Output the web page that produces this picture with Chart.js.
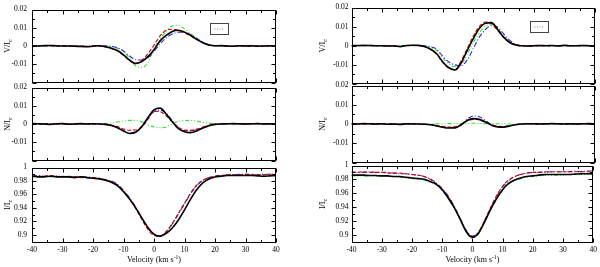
<!DOCTYPE html>
<html>
<head>
<meta charset="utf-8">
<script src="https://cdn.jsdelivr.net/npm/chart.js@4.4.0/dist/chart.umd.min.js"></script>
<style>
  html, body { margin: 0; padding: 0; background: #fff; }
  #wrap { position: relative; width: 600px; height: 267px; overflow: hidden; }
  canvas { position: absolute; }
</style>
</head>
<body>
<div id="wrap">
  <canvas id="lv" width="300" height="92" style="left:0;top:0"></canvas>
  <canvas id="ln" width="300" height="92" style="left:0;top:78px"></canvas>
  <canvas id="li" width="300" height="109" style="left:0;top:158px"></canvas>
  <canvas id="rv" width="300" height="92" style="left:300px;top:0"></canvas>
  <canvas id="rn" width="300" height="92" style="left:300px;top:78px"></canvas>
  <canvas id="ri" width="300" height="109" style="left:300px;top:158px"></canvas>
</div>
<script>
// velocity grid (km/s)
const velocity = [-40, -38, -36, -34, -32, -30, -28, -26, -24, -22, -20,
  -18, -16, -14, -12, -10, -8, -6, -4, -2,
  0, 2, 4, 6, 8, 10, 12, 14, 16, 18, 20,
  22, 24, 26, 28, 30, 32, 34, 36, 38, 40];

// left panel, V/Ic
const lvBlack = [0.0001, 0.0000, 0.0002, 0.0003, 0.0001, 0.0000, 0.0000, -0.0001, -0.0003, -0.0004, -0.0001,
  0.0001, -0.0004, -0.0012, -0.0025, -0.0048, -0.0078, -0.0096, -0.0085, -0.0058,
  -0.0020, 0.0028, 0.0058, 0.0080, 0.0086, 0.0076, 0.0058, 0.0036, 0.0018, 0.0005, 0.0001,
  0.0002, 0.0000, -0.0001, 0.0001, 0.0000, 0.0001, -0.0001, 0.0000, 0.0001, 0.0000];
const lvRed = [0.0000, 0.0001, 0.0002, 0.0001, 0.0000, 0.0001, 0.0000, -0.0001, 0.0000, -0.0002, 0.0000,
  0.0000, -0.0004, -0.0013, -0.0028, -0.0052, -0.0080, -0.0094, -0.0078, -0.0042,
  0.0005, 0.0055, 0.0086, 0.0092, 0.0085, 0.0072, 0.0055, 0.0035, 0.0018, 0.0006, 0.0001,
  0.0001, -0.0001, 0.0000, 0.0001, 0.0000, 0.0000, 0.0001, -0.0001, 0.0000, 0.0001];
const lvBlue = [0.0000, 0.0001, 0.0001, 0.0002, 0.0001, 0.0000, 0.0001, 0.0000, 0.0000, -0.0001, 0.0001,
  0.0002, 0.0001, -0.0002, -0.0010, -0.0027, -0.0055, -0.0075, -0.0077, -0.0065,
  -0.0030, 0.0012, 0.0045, 0.0066, 0.0076, 0.0075, 0.0062, 0.0042, 0.0022, 0.0008, 0.0002,
  0.0001, 0.0000, 0.0000, 0.0001, 0.0000, -0.0001, 0.0000, 0.0001, 0.0000, 0.0000];
const lvGreen = [0.0000, 0.0000, 0.0001, 0.0000, 0.0000, 0.0001, 0.0000, 0.0000, 0.0001, 0.0000, 0.0000,
  0.0000, 0.0000, -0.0003, -0.0012, -0.0030, -0.0068, -0.0108, -0.0118, -0.0090,
  -0.0015, 0.0037, 0.0082, 0.0110, 0.0113, 0.0094, 0.0068, 0.0042, 0.0020, 0.0006, 0.0001,
  0.0000, 0.0000, 0.0001, 0.0000, 0.0000, 0.0000, 0.0001, 0.0000, 0.0000, 0.0000];

// left panel, N/Ic
const lnBlack = [0.0002, 0.0001, 0.0000, -0.0002, 0.0001, 0.0002, -0.0001, 0.0000, 0.0002, 0.0000, 0.0001,
  0.0000, -0.0002, -0.0008, -0.0020, -0.0038, -0.0052, -0.0045, -0.0015, 0.0035,
  0.0078, 0.0087, 0.0055, 0.0012, -0.0025, -0.0042, -0.0047, -0.0038, -0.0022, -0.0009, -0.0002,
  0.0000, 0.0001, 0.0002, 0.0001, 0.0000, 0.0001, 0.0002, 0.0000, 0.0001, 0.0000];
const lnRed = [0.0001, 0.0001, 0.0000, -0.0001, 0.0000, 0.0001, 0.0000, 0.0001, 0.0000, 0.0000, 0.0000,
  0.0000, -0.0002, -0.0006, -0.0014, -0.0027, -0.0034, -0.0033, -0.0015, 0.0025,
  0.0070, 0.0068, 0.0045, 0.0012, -0.0018, -0.0033, -0.0035, -0.0028, -0.0017, -0.0007, -0.0001,
  0.0000, 0.0001, 0.0001, 0.0000, 0.0000, 0.0001, 0.0001, 0.0000, 0.0000, 0.0000];
const lnBlue = [0.0001, 0.0000, 0.0001, -0.0001, 0.0001, 0.0001, 0.0000, 0.0000, 0.0001, 0.0000, 0.0000,
  0.0000, -0.0002, -0.0007, -0.0018, -0.0035, -0.0048, -0.0042, -0.0012, 0.0030,
  0.0068, 0.0076, 0.0058, 0.0018, -0.0020, -0.0036, -0.0038, -0.0032, -0.0020, -0.0008, -0.0002,
  0.0000, 0.0001, 0.0001, 0.0001, 0.0000, 0.0001, 0.0001, 0.0000, 0.0001, 0.0000];
const lnGreen = [0.0000, 0.0000, 0.0001, 0.0000, 0.0000, 0.0000, 0.0001, 0.0000, 0.0000, 0.0000, 0.0001,
  0.0001, 0.0002, 0.0006, 0.0011, 0.0016, 0.0020, 0.0020, 0.0012, -0.0004,
  -0.0016, -0.0020, -0.0016, 0.0002, 0.0014, 0.0019, 0.0020, 0.0016, 0.0010, 0.0005, 0.0002,
  0.0001, 0.0000, 0.0000, 0.0000, 0.0000, 0.0000, 0.0000, 0.0000, 0.0000, 0.0000];

// left panel, I/Ic
const liBlack = [0.987, 0.986, 0.986, 0.987, 0.986, 0.986, 0.986, 0.985, 0.986, 0.985, 0.984,
  0.983, 0.981, 0.978, 0.973, 0.964, 0.953, 0.940, 0.925, 0.911,
  0.901, 0.898, 0.902, 0.910, 0.922, 0.937, 0.953, 0.967, 0.977, 0.983, 0.986,
  0.987, 0.988, 0.988, 0.988, 0.988, 0.988, 0.9875, 0.987, 0.9875, 0.988];
const liRed = [0.988, 0.987, 0.987, 0.988, 0.987, 0.986, 0.987, 0.986, 0.986, 0.985, 0.985,
  0.984, 0.982, 0.979, 0.974, 0.965, 0.953, 0.939, 0.923, 0.908,
  0.899, 0.898, 0.905, 0.917, 0.932, 0.947, 0.962, 0.974, 0.981, 0.985, 0.987,
  0.988, 0.989, 0.989, 0.989, 0.990, 0.989, 0.989, 0.989, 0.990, 0.990];
const liBlue = [0.988, 0.988, 0.987, 0.987, 0.987, 0.987, 0.986, 0.986, 0.986, 0.986, 0.985,
  0.984, 0.982, 0.980, 0.975, 0.966, 0.955, 0.941, 0.925, 0.910,
  0.900, 0.898, 0.904, 0.916, 0.931, 0.946, 0.961, 0.973, 0.981, 0.985, 0.987,
  0.988, 0.989, 0.989, 0.990, 0.990, 0.990, 0.989, 0.990, 0.990, 0.990];
const liGreen = [0.987, 0.987, 0.987, 0.986, 0.987, 0.986, 0.986, 0.986, 0.985, 0.985, 0.985,
  0.984, 0.982, 0.979, 0.974, 0.965, 0.954, 0.940, 0.924, 0.909,
  0.899, 0.898, 0.904, 0.916, 0.931, 0.946, 0.961, 0.973, 0.980, 0.985, 0.987,
  0.988, 0.988, 0.989, 0.989, 0.989, 0.989, 0.989, 0.989, 0.989, 0.989];

// right panel, V/Ic
const rvBlack = [0.0000, 0.0001, 0.0002, 0.0001, 0.0000, 0.0000, -0.0001, -0.0001, -0.0005, 0.0001, 0.0003,
  0.0002, -0.0004, -0.0018, -0.0042, -0.0085, -0.0115, -0.0127, -0.0090, -0.0025,
  0.0037, 0.0090, 0.0118, 0.0121, 0.0085, 0.0045, 0.0017, 0.0004, 0.0000, -0.0001, 0.0000,
  0.0001, 0.0000, 0.0001, -0.0001, 0.0002, 0.0000, 0.0000, 0.0001, 0.0000, -0.0001];
const rvRed = [0.0001, 0.0000, 0.0001, 0.0002, 0.0000, 0.0000, 0.0000, -0.0001, -0.0004, 0.0000, 0.0002,
  0.0001, -0.0005, -0.0019, -0.0045, -0.0088, -0.0117, -0.0125, -0.0080, -0.0015,
  0.0050, 0.0100, 0.0124, 0.0115, 0.0080, 0.0042, 0.0016, 0.0004, 0.0000, 0.0000, 0.0001,
  0.0000, 0.0001, 0.0000, 0.0000, 0.0001, 0.0000, 0.0001, 0.0000, 0.0000, 0.0000];
const rvBlue = [0.0000, 0.0001, 0.0000, 0.0000, 0.0001, 0.0000, 0.0000, 0.0000, 0.0000, 0.0001, 0.0001,
  0.0001, 0.0000, -0.0005, -0.0018, -0.0055, -0.0085, -0.0100, -0.0104, -0.0075,
  -0.0015, 0.0045, 0.0085, 0.0105, 0.0098, 0.0062, 0.0028, 0.0008, 0.0000, -0.0001, 0.0000,
  0.0000, 0.0001, 0.0000, 0.0000, 0.0000, -0.0001, 0.0000, 0.0000, 0.0001, 0.0000];
const rvGreen = [0.0000, 0.0000, 0.0001, 0.0000, 0.0000, 0.0001, 0.0000, 0.0000, 0.0000, -0.0001, 0.0000,
  0.0000, -0.0002, -0.0008, -0.0025, -0.0065, -0.0095, -0.0110, -0.0100, -0.0045,
  0.0018, 0.0068, 0.0102, 0.0114, 0.0090, 0.0050, 0.0020, 0.0005, 0.0000, 0.0000, 0.0000,
  0.0000, 0.0000, 0.0001, 0.0000, 0.0000, 0.0000, 0.0000, 0.0001, 0.0000, 0.0000];

// right panel, N/Ic
const rnBlack = [0.0001, 0.0000, 0.0002, 0.0001, 0.0000, 0.0001, -0.0001, 0.0000, -0.0002, 0.0001, 0.0000,
  0.0000, -0.0001, -0.0004, -0.0010, -0.0017, -0.0021, -0.0020, -0.0005, 0.0018,
  0.0028, 0.0024, 0.0010, -0.0006, -0.0015, -0.0016, -0.0010, -0.0004, 0.0000, 0.0001, 0.0001,
  0.0000, 0.0001, 0.0002, 0.0001, 0.0000, 0.0001, 0.0000, 0.0001, 0.0002, 0.0000];
const rnRed = [0.0000, 0.0001, 0.0001, 0.0000, 0.0000, 0.0001, 0.0000, 0.0000, -0.0001, 0.0000, 0.0001,
  0.0000, -0.0001, -0.0003, -0.0008, -0.0013, -0.0016, -0.0015, -0.0003, 0.0016,
  0.0024, 0.0022, 0.0010, -0.0004, -0.0012, -0.0013, -0.0008, -0.0003, 0.0000, 0.0001, 0.0000,
  0.0000, 0.0001, 0.0001, 0.0000, 0.0000, 0.0000, 0.0001, 0.0001, 0.0000, 0.0000];
const rnBlue = [0.0001, 0.0001, 0.0000, 0.0001, 0.0000, 0.0000, 0.0001, 0.0000, 0.0000, 0.0000, 0.0001,
  0.0000, -0.0001, -0.0003, -0.0009, -0.0015, -0.0018, -0.0016, -0.0002, 0.0025,
  0.0042, 0.0038, 0.0018, -0.0003, -0.0013, -0.0014, -0.0009, -0.0003, 0.0000, 0.0001, 0.0000,
  0.0000, 0.0000, 0.0001, 0.0001, 0.0000, 0.0000, 0.0000, 0.0001, 0.0000, 0.0001];
const rnGreen = [0.0000, 0.0000, 0.0001, 0.0000, -0.0001, 0.0000, 0.0000, 0.0000, 0.0000, 0.0000, 0.0000,
  0.0000, 0.0000, 0.0000, 0.0001, 0.0001, 0.0002, 0.0002, 0.0002, 0.0003,
  0.0004, 0.0003, 0.0002, 0.0002, 0.0001, 0.0001, 0.0000, 0.0000, 0.0000, 0.0000, 0.0000,
  0.0000, 0.0000, 0.0000, 0.0000, 0.0000, 0.0000, 0.0000, 0.0000, 0.0000, 0.0000];

// right panel, I/Ic
const riBlack = [0.986, 0.986, 0.986, 0.9855, 0.9855, 0.985, 0.985, 0.984, 0.984, 0.983, 0.982,
  0.981, 0.980, 0.977, 0.973, 0.965, 0.953, 0.939, 0.922, 0.904,
  0.896, 0.902, 0.918, 0.936, 0.952, 0.965, 0.974, 0.979, 0.982, 0.984, 0.985,
  0.986, 0.987, 0.987, 0.987, 0.987, 0.987, 0.9875, 0.988, 0.988, 0.988];
const riRed = [0.990, 0.990, 0.991, 0.990, 0.990, 0.990, 0.989, 0.989, 0.989, 0.988, 0.987,
  0.986, 0.984, 0.980, 0.974, 0.966, 0.955, 0.940, 0.922, 0.905,
  0.897, 0.903, 0.920, 0.939, 0.956, 0.970, 0.979, 0.984, 0.987, 0.989, 0.990,
  0.990, 0.991, 0.991, 0.991, 0.991, 0.991, 0.991, 0.991, 0.991, 0.991];
const riBlue = [0.991, 0.990, 0.990, 0.991, 0.990, 0.990, 0.990, 0.989, 0.988, 0.988, 0.987,
  0.986, 0.984, 0.981, 0.975, 0.967, 0.956, 0.941, 0.923, 0.906,
  0.898, 0.903, 0.919, 0.938, 0.955, 0.969, 0.978, 0.984, 0.987, 0.989, 0.990,
  0.990, 0.990, 0.991, 0.991, 0.991, 0.991, 0.992, 0.991, 0.992, 0.992];
const riGreen = [0.985, 0.985, 0.985, 0.985, 0.985, 0.984, 0.984, 0.984, 0.983, 0.982, 0.981,
  0.980, 0.979, 0.976, 0.972, 0.964, 0.952, 0.938, 0.921, 0.903,
  0.895, 0.901, 0.917, 0.935, 0.951, 0.964, 0.973, 0.978, 0.981, 0.983, 0.984,
  0.985, 0.986, 0.986, 0.986, 0.986, 0.987, 0.987, 0.987, 0.987, 0.987];

const lineStyles = [
  { color: '#000000', width: 1.6, dash: [] },
  { color: '#d00000', width: 1.1, dash: [4, 2] },
  { color: '#2b2bd6', width: 1.1, dash: [5, 2, 1, 2] },
  { color: '#33dd33', width: 1.1, dash: [4, 2, 1, 2, 1, 2] }
];

Chart.defaults.font.family = '"Liberation Serif", "DejaVu Serif", serif';
Chart.defaults.font.size = 7.5;
Chart.defaults.color = '#000';

const SERIF = '"Liberation Serif", "DejaVu Serif", serif';

function isMultiple(v, step) {
  const q = v / step;
  return Math.abs(q - Math.round(q)) < 1e-6;
}

// frame, inward ticks, axis titles, legend box
const deco = {
  id: 'deco',
  afterDraw(chart, args, o) {
    const { ctx, chartArea: a, scales: { x, y } } = chart;
    const L = Math.round(a.left) + 0.5, R = Math.round(a.right) - 0.5;
    const T = Math.round(a.top) + 0.5, B = Math.round(a.bottom) - 0.5;
    ctx.save();
    ctx.strokeStyle = '#000';
    ctx.lineWidth = 1;
    ctx.beginPath();
    x.ticks.forEach(t => {
      if (!isMultiple(t.value, 5)) return;
      const px = Math.round(x.getPixelForValue(t.value)) + 0.5;
      const len = isMultiple(t.value, 10) ? 4 : 2.5;
      ctx.moveTo(px, T); ctx.lineTo(px, T + len);
      ctx.moveTo(px, B); ctx.lineTo(px, B - len);
    });
    y.ticks.forEach(t => {
      if (!isMultiple(t.value, o.minor)) return;
      const py = Math.round(y.getPixelForValue(t.value)) + 0.5;
      const len = isMultiple(t.value, o.major) ? 4 : 2.5;
      ctx.moveTo(L, py); ctx.lineTo(L + len, py);
      ctx.moveTo(R, py); ctx.lineTo(R - len, py);
    });
    ctx.stroke();
    ctx.strokeRect(L, T, R - L, B - T);

    // y title with subscript c
    ctx.fillStyle = '#000';
    ctx.translate(o.titleX, (a.top + a.bottom) / 2);
    ctx.rotate(-Math.PI / 2);
    ctx.textBaseline = 'middle';
    ctx.font = '8px ' + SERIF;
    const main = o.yTitle + '/I';
    const w1 = ctx.measureText(main).width;
    ctx.font = '6px ' + SERIF;
    const w2 = ctx.measureText('c').width;
    const x0 = -(w1 + w2) / 2;
    ctx.font = '8px ' + SERIF;
    ctx.fillText(main, x0, 0);
    ctx.font = '6px ' + SERIF;
    ctx.fillText('c', x0 + w1, 2.5);
    ctx.setTransform(1, 0, 0, 1, 0, 0);

    if (o.xTitle) {
      ctx.textBaseline = 'alphabetic';
      const p1 = 'Velocity (km s', p2 = '-1', p3 = ')';
      ctx.font = '8px ' + SERIF;
      const a1 = ctx.measureText(p1).width, a3 = ctx.measureText(p3).width;
      ctx.font = '5.5px ' + SERIF;
      const a2 = ctx.measureText(p2).width;
      let cx = (a.left + a.right) / 2 - (a1 + a2 + a3) / 2;
      const by = a.bottom + 19.5;
      ctx.font = '8px ' + SERIF;
      ctx.fillText(p1, cx, by); cx += a1;
      ctx.font = '5.5px ' + SERIF;
      ctx.fillText(p2, cx, by - 3); cx += a2;
      ctx.font = '8px ' + SERIF;
      ctx.fillText(p3, cx, by);
    }

    if (o.legend) {
      const bx = Math.round(a.left + 178) + 0.5, by = Math.round(a.top + 13) + 0.5;
      ctx.strokeStyle = '#444';
      ctx.strokeRect(bx, by, 18, 11);
      ctx.strokeStyle = '#888';
      ctx.setLineDash([1, 1.5]);
      ctx.beginPath();
      ctx.moveTo(bx + 4, by + 5.5);
      ctx.lineTo(bx + 14, by + 5.5);
      ctx.stroke();
    }
    ctx.restore();
  }
};

function makeChart(id, series, kind, side, showX, legend) {
  const datasets = series.map((vals, i) => ({
    data: velocity.map((v, k) => ({ x: v, y: vals[k] })),
    borderColor: lineStyles[i].color,
    borderWidth: lineStyles[i].width,
    borderDash: lineStyles[i].dash,
    pointRadius: 0,
    cubicInterpolationMode: 'monotone',
    fill: false
  }));
  const pad = { left: 0, right: side.padRight, top: showX ? 6 : (legend ? 5 : 6), bottom: showX ? 0 : (legend ? 8 : 6) };
  return new Chart(document.getElementById(id), {
    type: 'line',
    data: { datasets },
    plugins: [deco],
    options: {
      responsive: false,
      animation: false,
      events: [],
      layout: { padding: pad },
      plugins: {
        legend: { display: false },
        tooltip: { enabled: false },
        deco: {
          minor: kind.minor, major: kind.major, yTitle: kind.title,
          titleX: side.titleX, xTitle: showX, legend: legend
        }
      },
      scales: {
        x: {
          type: 'linear', min: -40, max: 40,
          grid: { display: false, drawTicks: false },
          border: { display: false },
          ticks: {
            display: showX, stepSize: 5, autoSkip: false, maxRotation: 0, padding: 3,
            callback: v => isMultiple(v, 10) ? String(Math.round(v)) : ''
          },
          afterFit: s => { s.height = showX ? 24.5 : 0; }
        },
        y: {
          min: kind.min, max: kind.max,
          grid: { display: false, drawTicks: false },
          border: { display: false },
          ticks: {
            stepSize: kind.minor, autoSkip: false, padding: side.tickPad,
            callback: v => {
              if (kind.hideMin && Math.abs(v - kind.min) < 1e-9) return '';
              if (!isMultiple(v, kind.labelStep)) return '';
              if (Math.abs(v) < 1e-9) return '0';
              return String(Number(v.toFixed(2)));
            }
          },
          afterFit: s => { s.width = side.yWidth; }
        }
      }
    }
  });
}

const kindV = { title: 'V', min: -0.02, max: 0.02, minor: 0.005, major: 0.01, labelStep: 0.01, hideMin: true };
const kindN = { title: 'N', min: -0.02, max: 0.02, minor: 0.005, major: 0.01, labelStep: 0.01, hideMin: true };
const kindI = { title: 'I', min: 0.8885, max: 1.0, minor: 0.01, major: 0.02, labelStep: 0.02, hideMin: true };

const leftSide = { padRight: 24, yWidth: 32, tickPad: 5, titleX: 8 };
const rightSide = { padRight: 5, yWidth: 51.5, tickPad: 3, titleX: 23 };

makeChart('lv', [lvBlack, lvRed, lvBlue, lvGreen], kindV, leftSide, false, true);
makeChart('ln', [lnBlack, lnRed, lnBlue, lnGreen], kindN, leftSide, false, false);
makeChart('li', [liBlack, liRed, liBlue, liGreen], kindI, leftSide, true, false);
makeChart('rv', [rvBlack, rvRed, rvBlue, rvGreen], kindV, rightSide, false, true);
makeChart('rn', [rnBlack, rnRed, rnBlue, rnGreen], kindN, rightSide, false, false);
makeChart('ri', [riBlack, riRed, riBlue, riGreen], kindI, rightSide, true, false);
</script>
</body>
</html>
